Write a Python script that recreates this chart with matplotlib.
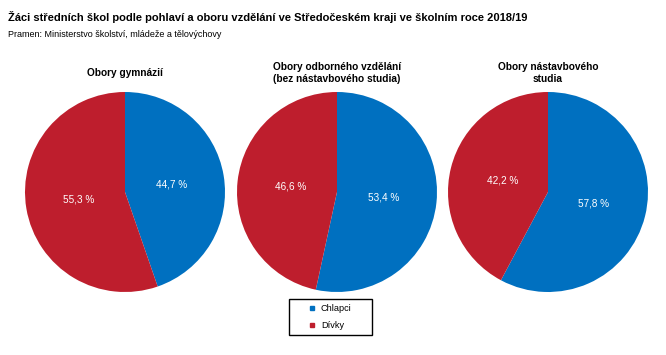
import matplotlib.pyplot as plt
from matplotlib.lines import Line2D
from matplotlib.patches import Rectangle

plt.rcParams['font.family'] = ['Liberation Sans', 'DejaVu Sans']

titles = ['Obory gymnázií', 'Obory odborného vzdělání\n(bez nástavbového studia)', 'Obory nástavbového\nstudia']
chlapci = [44.7, 53.4, 57.8]
divky = [55.3, 46.6, 42.2]
series_names = ['Chlapci', 'Dívky']
colors = ['#0070C0', '#BE1E2D']

fig = plt.figure(figsize=(6.66, 3.55), dpi=100)
W, H = 666, 355

fig.text(8 / W, 1 - 21 / H, 'Žáci středních škol podle pohlaví a oboru vzdělání ve Středočeském kraji ve školním roce 2018/19',
         fontsize=8, fontweight='bold', va='baseline')
fig.text(8 / W, 1 - 37 / H, 'Pramen: Ministerstvo školství, mládeže a tělovýchovy', fontsize=6.5, va='baseline')

centers = [(125, 192), (337, 192), (548, 192)]
r = 100
for i, (cx, cy) in enumerate(centers):
    ax = fig.add_axes([(cx - r) / W, (H - cy - r) / H, 2 * r / W, 2 * r / H])
    vals = [chlapci[i], divky[i]]
    ax.pie(vals, colors=colors, startangle=90, counterclock=False,
           autopct=lambda p: f'{p:.1f} %'.replace('.', ','),
           pctdistance=0.47, radius=1,
           wedgeprops=dict(edgecolor='none', linewidth=0),
           textprops=dict(color='white', fontsize=7.2))
    ax.set_xlim(-1, 1)
    ax.set_ylim(-1, 1)
    ax.set_aspect('equal')
    fig.text(cx / W, 1 - 73.5 / H, titles[i], ha='center', va='center', fontsize=7.3, fontweight='bold',
             linespacing=1.25)

# legend with its own frame
fig.patches.append(Rectangle((289 / W, 1 - 335 / H), 83 / W, 36 / H, transform=fig.transFigure,
                             facecolor='white', edgecolor='black', linewidth=1))
handles = [Line2D([], [], linestyle='none', marker='s', markersize=3.4, color=c, label=n)
           for c, n in zip(colors, series_names)]
fig.legend(handles=handles, loc='center left', bbox_to_anchor=(307.5 / W, 1 - 317 / H),
           fontsize=6.6, frameon=False, handlelength=1, handletextpad=0.45,
           borderpad=0, borderaxespad=0, labelspacing=0.9)

fig.savefig('out.png', dpi=100)
